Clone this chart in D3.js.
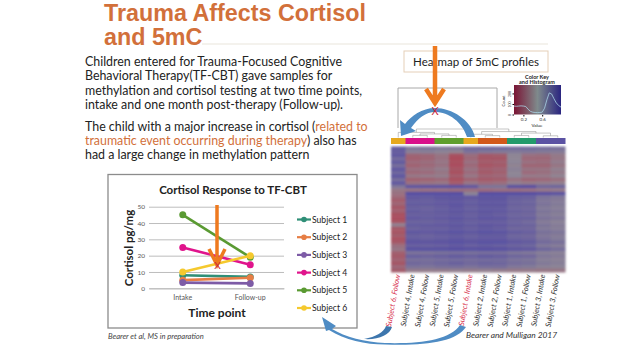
<!DOCTYPE html>
<html>
<head>
<meta charset="utf-8">
<script src="https://cdn.jsdelivr.net/npm/d3@7"></script>
<style>
html, body { margin: 0; padding: 0; background: #fff; overflow: hidden; }
svg { display: block; }
text { font-family: Lato, "Open Sans", sans-serif; fill: #222; }
</style>
</head>
<body>
<div id="viz"></div>
<script>
// line chart values
var timePoints = ["Intake", "Follow-up"];
var subjects = ["Subject 1", "Subject 2", "Subject 3", "Subject 4", "Subject 5", "Subject 6"];
var subject1 = [8, 7];
var subject2 = [5, 6.5];
var subject3 = [3.5, 3];
var subject4 = [25, 14.5];
var subject5 = [45, 19];
var subject6 = [10, 20];
var cortisolTicks = [0, 10, 20, 30, 40, 50];
var subjectColors = ["#2f8f77", "#e67e45", "#7d5ba6", "#e0148c", "#5a9a32", "#f5c92e"];

// heatmap values, one row per line, columns in sampleNames order
var sampleNames = ["Subject 6, Follow", "Subject 4, Intake", "Subject 4, Follow", "Subject 5, Intake",
    "Subject 5, Follow", "Subject 6, Intake", "Subject 2, Intake", "Subject 2, Follow",
    "Subject 1, Intake", "Subject 1, Follow", "Subject 3, Intake", "Subject 3, Follow"];
var sampleBarColors = ["#e6a81e", "#d9108a", "#d9108a", "#5f9e2d", "#5f9e2d", "#e6a81e",
    "#d2581a", "#d2581a", "#239a6b", "#239a6b", "#5b52a3", "#5b52a3"];
var heatRows = [
    [.85,.62,.64,.62,.62,.74,.76,.76,.72,.72,.70,.68],
    [.82,.55,.56,.52,.48,.66,.62,.60,.60,.62,.60,.58],
    [.86,.28,.30,.38,.14,.34,.20,.22,.50,.36,.34,.42],
    [.72,.24,.28,.36,.10,.30,.18,.18,.50,.30,.30,.40],
    [.84,.32,.34,.40,.14,.36,.22,.24,.52,.36,.34,.44],
    [.70,.26,.30,.36,.12,.30,.16,.20,.48,.28,.28,.38],
    [.86,.36,.38,.44,.18,.38,.24,.28,.54,.38,.38,.46],
    [.76,.30,.32,.38,.14,.32,.20,.24,.50,.32,.34,.42],
    [.88,.40,.42,.44,.22,.40,.28,.30,.52,.42,.42,.48],
    [.70,.24,.26,.30,.14,.26,.20,.22,.36,.28,.30,.34],
    [.86,.36,.38,.40,.22,.40,.32,.34,.46,.42,.44,.46],
    [.62,.88,.90,.90,.92,.86,.64,.64,.92,.94,.74,.76],
    [.40,.38,.36,.36,.34,.34,.32,.34,.34,.36,.40,.42],
    [.36,.96,.96,.96,.96,.52,.96,.96,.96,.96,.94,.92],
    [.30,.86,.84,.88,.90,.86,.90,.90,.82,.80,.66,.62],
    [.22,.82,.80,.84,.86,.82,.86,.86,.78,.76,.62,.58],
    [.28,.84,.84,.86,.90,.84,.88,.88,.80,.78,.66,.60],
    [.18,.80,.78,.82,.86,.80,.84,.84,.76,.74,.60,.56],
    [.24,.84,.82,.84,.88,.84,.88,.86,.80,.78,.64,.60],
    [.14,.80,.80,.82,.84,.80,.84,.82,.76,.74,.60,.56],
    [.12,.86,.84,.86,.90,.84,.90,.88,.80,.80,.66,.62],
    [.16,.78,.78,.80,.84,.80,.82,.82,.76,.72,.58,.54],
    [.46,.84,.84,.86,.88,.84,.88,.86,.80,.78,.64,.58],
    [.20,.78,.80,.80,.84,.80,.84,.82,.74,.74,.60,.56],
    [.16,.88,.86,.88,.92,.88,.92,.90,.84,.82,.68,.64],
    [.22,.80,.78,.82,.84,.80,.84,.84,.76,.74,.62,.58],
    [.14,.84,.82,.84,.88,.84,.86,.86,.80,.78,.66,.60],
    [.20,.90,.88,.90,.92,.88,.92,.92,.86,.84,.72,.68],
    [.34,.82,.80,.82,.86,.82,.84,.82,.78,.76,.62,.58],
    [.40,.92,.92,.92,.94,.92,.94,.92,.88,.86,.76,.70],
    [.24,.66,.66,.68,.70,.68,.70,.70,.64,.62,.56,.54],
    [.20,.80,.78,.80,.84,.80,.84,.82,.76,.74,.62,.58],
    [.26,.68,.68,.70,.72,.70,.72,.72,.66,.64,.56,.54],
    [.18,.74,.72,.76,.80,.74,.78,.76,.70,.68,.60,.56],
    [.30,.66,.64,.68,.70,.66,.70,.70,.62,.60,.54,.52],
    [.22,.44,.44,.44,.46,.44,.46,.44,.42,.42,.40,.40]
];
// nested as [merge height, left, right], numbers are sample positions
var sampleTree = [1, [.6, 0, [.42, [.25, 1, 2], [.25, 3, 4]]],
                     [.7, [.38, 5, [.22, 6, 7]], [.52, [.24, 8, 9], [.2, 10, 11]]]];

// color key
var keyValues = [0, .05, .1, .15, .2, .25, .3, .35, .4, .45, .5, .55, .6, .65, .7, .75, .8, .85, .9, .95, 1];
var keyCounts = [80, 78, 80, 82, 80, 76, 50, 30, 22, 19, 18, 19, 22, 60, 140, 205, 195, 150, 110, 85, 70];
var keyColors = ["#7a1535", "#7f8a8c", "#2a2580"];

var width = 640, height = 360;
var svg = d3.select("#viz").append("svg").attr("width", width).attr("height", height);

var defs = svg.append("defs");
defs.append("filter").attr("id", "soft").attr("x", "-5%").attr("y", "-5%").attr("width", "110%").attr("height", "110%")
    .append("feGaussianBlur").attr("stdDeviation", 0.8);
var keyGrad = defs.append("linearGradient").attr("id", "keyGrad");
keyColors.forEach(function(c, i) {
    keyGrad.append("stop").attr("offset", (i * 50) + "%").attr("stop-color", c);
});

// slide heading and text
var heading = svg.append("g");
heading.selectAll("text").data(["Trauma Affects Cortisol", "and 5mC"]).enter().append("text")
    .attr("x", 104).attr("y", function(d, i) { return 21 + i * 24; })
    .style("font-family", "'Liberation Sans', Arial, sans-serif")
    .style("font-size", "23.3px").style("font-weight", "bold").style("fill", "#d2703a")
    .text(function(d) { return d; });
svg.append("line").attr("x1", 202).attr("x2", 548).attr("y1", 44).attr("y2", 44)
    .attr("stroke", "#e9e5dc").attr("stroke-width", 1.2);

var bodyLines = [
    {y: 66, parts: [["Children entered for Trauma-Focused Cognitive", 0]]},
    {y: 80, parts: [["Behavioral Therapy(TF-CBT) gave samples for", 0]]},
    {y: 95, parts: [["methylation and cortisol testing at two time points,", 0]]},
    {y: 109, parts: [["intake and one month post-therapy (Follow-up).", 0]]},
    {y: 131, parts: [["The child with a major increase in cortisol (", 0], ["related to", 1]]},
    {y: 145, parts: [["traumatic event occurring during therapy", 1], [") also has", 0]]},
    {y: 159, parts: [["had a large change in methylation pattern", 0]]}
];
bodyLines.forEach(function(line) {
    var t = svg.append("text").attr("x", 85).attr("y", line.y).style("font-size", "12.4px");
    line.parts.forEach(function(p) {
        t.append("tspan").style("fill", p[1] ? "#d2703a" : "#222").text(p[0]);
    });
});

// line chart panel
svg.append("rect").attr("x", 108).attr("y", 174.5).attr("width", 249).attr("height", 153.5)
    .attr("fill", "#fff").attr("stroke", "#8c8c8c").attr("stroke-width", 1.3);
svg.append("text").attr("x", 233).attr("y", 194).attr("text-anchor", "middle")
    .style("font-size", "11.5px").style("font-weight", "bold").text("Cortisol Response to TF-CBT");

var xScale = d3.scaleBand().domain(timePoints).range([149, 284]);
var yScale = d3.scaleLinear().domain([0, 50]).range([288.3, 206.7]);
var yAxis = d3.axisLeft(yScale).tickValues(cortisolTicks).tickSize(-135).tickPadding(4);
var xAxis = d3.axisBottom(xScale).tickSize(0).tickPadding(7);

var yG = svg.append("g").attr("transform", "translate(149,0)").call(yAxis);
yG.select(".domain").remove();
yG.selectAll("line").attr("stroke", "#bdbdbd");
yG.selectAll("text").style("font-size", "6.5px").style("fill", "#555");
var xG = svg.append("g").attr("transform", "translate(0,288.3)").call(xAxis);
xG.select(".domain").attr("stroke", "#bdbdbd");
xG.selectAll("text").style("font-size", "7px").style("fill", "#555");

svg.append("text").attr("transform", "translate(133,248) rotate(-90)").attr("text-anchor", "middle")
    .style("font-size", "11.5px").style("font-weight", "bold").text("Cortisol pg/mg");
svg.append("text").attr("x", 217).attr("y", 316.5).attr("text-anchor", "middle")
    .style("font-size", "12px").style("font-weight", "bold").text("Time point");

var series = [subject1, subject2, subject3, subject4, subject5, subject6];
var lineGen = d3.line()
    .x(function(d, i) { return xScale(timePoints[i]) + xScale.bandwidth() / 2; })
    .y(function(d) { return yScale(d); });
series.forEach(function(vals, s) {
    svg.append("path").attr("d", lineGen(vals)).attr("fill", "none")
        .attr("stroke", subjectColors[s]).attr("stroke-width", 2.6);
    svg.selectAll(null).data(vals).enter().append("circle")
        .attr("cx", function(d, i) { return xScale(timePoints[i]) + xScale.bandwidth() / 2; })
        .attr("cy", function(d) { return yScale(d); })
        .attr("r", 3.5).attr("fill", subjectColors[s]);
});

// legend
var legendY = d3.scalePoint().domain(subjects).range([219.5, 308]);
var legend = svg.selectAll(".legend").data(subjects).enter().append("g").attr("class", "legend")
    .attr("transform", function(d) { return "translate(0," + legendY(d) + ")"; });
legend.append("line").attr("x1", 297).attr("x2", 311)
    .attr("stroke", function(d, i) { return subjectColors[i]; }).attr("stroke-width", 2.2);
legend.append("circle").attr("cx", 304).attr("r", 2.8).attr("fill", function(d, i) { return subjectColors[i]; });
legend.append("text").attr("x", 312).attr("y", 3).style("font-size", "8.6px")
    .text(function(d) { return d; });

svg.append("text").attr("x", 108).attr("y", 339).style("font-size", "7.6px").style("font-style", "italic")
    .style("fill", "#444").text("Bearer et al, MS in preparation");

// heatmap
var colX = d3.scaleBand().domain(sampleNames).range([391, 565]);
var rowY = d3.scaleBand().domain(d3.range(heatRows.length)).range([146.5, 272]);
var heatColor = d3.scaleLinear().domain([0, .5, 1]).range(["#b23c4c", "#8f8695", "#5048a4"]);

var heat = svg.append("g").attr("filter", "url(#soft)");
heatRows.forEach(function(row, r) {
    heat.selectAll(null).data(row).enter().append("rect")
        .attr("x", function(d, i) { return colX(sampleNames[i]); })
        .attr("y", rowY(r))
        .attr("width", colX.bandwidth() + 0.5)
        .attr("height", rowY.bandwidth() + 0.5)
        .attr("fill", function(d) { return heatColor(d); });
});
svg.selectAll(".sampleBar").data(sampleNames).enter().append("rect").attr("class", "sampleBar")
    .attr("x", function(d) { return colX(d); }).attr("y", 138)
    .attr("width", colX.bandwidth() + 0.5).attr("height", 6)
    .attr("fill", function(d, i) { return sampleBarColors[i]; });

// dendrogram above the color bar
var treeHeight = d3.scaleLinear().domain([0, 1]).range([137.5, 129]);
var root = d3.hierarchy(sampleTree, function(d) { return Array.isArray(d) ? d.slice(1) : null; });
root.eachAfter(function(n) {
    if (n.children) {
        n.px = d3.mean(n.children, function(c) { return c.px; });
        n.py = treeHeight(n.data[0]);
    } else {
        n.px = colX(sampleNames[n.data]) + colX.bandwidth() / 2;
        n.py = treeHeight(0);
    }
});
svg.selectAll(".treeLink").data(root.links()).enter().append("path").attr("class", "treeLink")
    .attr("d", function(l) {
        return "M" + l.source.px + "," + l.source.py + "H" + l.target.px + "V" + l.target.py;
    })
    .attr("fill", "none").attr("stroke", "#8a8a8a").attr("stroke-width", 0.5);

// sample labels
svg.selectAll(".sampleLabel").data(sampleNames).enter().append("text").attr("class", "sampleLabel")
    .attr("transform", function(d) {
        return "translate(" + (colX(d) + colX.bandwidth() / 2 + 2) + ",275) rotate(-80)";
    })
    .attr("text-anchor", "end").style("font-size", "7.6px").style("font-style", "italic")
    .style("fill", function(d) { return d.indexOf("Subject 6") == 0 ? "#d8344f" : "#333"; })
    .text(function(d) { return d; });
svg.append("text").attr("x", 466).attr("y", 338).style("font-size", "8.4px").style("font-style", "italic")
    .style("fill", "#333").text("Bearer and Mulligan 2017");

// heatmap title box
svg.append("rect").attr("x", 404).attr("y", 51).attr("width", 144).attr("height", 21)
    .attr("fill", "#fff").attr("stroke", "#e5cfb8").attr("stroke-width", 1);
svg.append("text").attr("x", 476).attr("y", 66).attr("text-anchor", "middle")
    .style("font-size", "11.5px").text("Heatmap of 5mC profiles");

// open box over the dendrogram
svg.append("path").attr("d", "M398,128V88H497V128").attr("fill", "none")
    .attr("stroke", "#a8a8a8").attr("stroke-width", 1);

// color key inset
var keyX = d3.scaleLinear().domain([0, 1]).range([514, 561]);
var keyY = d3.scaleLinear().domain([0, 280]).range([114.5, 85]);
svg.append("rect").attr("x", keyX(0)).attr("y", 85).attr("width", keyX(1) - keyX(0)).attr("height", 29.5)
    .attr("fill", "url(#keyGrad)");
svg.append("path").attr("d", d3.line()
        .x(function(d, i) { return keyX(keyValues[i]); })
        .y(function(d) { return keyY(d); })(keyCounts))
    .attr("fill", "none").attr("stroke", "#a9d3e6").attr("stroke-width", 0.8);
var keyAxis = d3.axisBottom(keyX).tickValues([.2, .6]).tickSize(1.5).tickPadding(1);
var keyXG = svg.append("g").attr("transform", "translate(0,115)").call(keyAxis);
keyXG.select(".domain").remove();
keyXG.selectAll("text").style("font-size", "4.5px").style("fill", "#333");
var keyYAxis = d3.axisLeft(keyY).tickValues([0, 100, 200]).tickSize(1.5).tickPadding(1);
var keyYG = svg.append("g").attr("transform", "translate(514,0)").call(keyYAxis);
keyYG.select(".domain").remove();
keyYG.selectAll("text").attr("transform", "rotate(-90)").attr("dy", 0).attr("x", 0).attr("y", -3)
    .attr("text-anchor", "middle").style("font-size", "3.5px").style("fill", "#333");
svg.append("text").attr("transform", "translate(505,101) rotate(-90)").attr("text-anchor", "middle")
    .style("font-size", "4px").text("Count");
svg.append("text").attr("x", 537).attr("y", 127).attr("text-anchor", "middle")
    .style("font-size", "4.5px").text("Value");
svg.append("text").attr("x", 537).attr("y", 79).attr("text-anchor", "middle")
    .style("font-size", "5.5px").style("font-weight", "bold").text("Color Key");
svg.append("text").attr("x", 537).attr("y", 84).attr("text-anchor", "middle")
    .style("font-size", "5.5px").style("font-weight", "bold").text("and Histogram");

// blue arc arrows
svg.append("path")
    .attr("d", "M475,137 C471,120 452,108 435,108 C422,108 411,116 405,124 L400,120 L401,136 L416,131 L411,128 C418,118 426,112 435,112 C449,112 462,122 467,137 Z")
    .attr("fill", "#4f8cc4");
svg.append("path")
    .attr("d", "M460,325 C450,340 420,344 385,343 C365,342 345,337 332,329 L336,326 L322,317 L326,331 L329,330 C345,340 365,344.5 385,344.5 C425,346 456,342 466,327 Z")
    .attr("fill", "#4f8cc4");
svg.append("path")
    .attr("d", "M386,326 C384,332 376,337 364,339 C378,340 390,335 392,327 Z")
    .attr("fill", "#3d76ad");

// orange arrows and red marks
function orangeArrow(x, y0, y1, wingX, wingY, w) {
    svg.append("path").attr("d", "M" + x + "," + y0 + "V" + y1 + "M" + (x - wingX) + "," + (y1 - wingY) + "L" + x + "," + y1 + "L" + (x + wingX) + "," + (y1 - wingY))
        .attr("fill", "none").attr("stroke", "#ee7a1f").attr("stroke-width", w);
}
orangeArrow(435, 46, 103, 9, 14, 4.5);
orangeArrow(217, 205, 265, 8, 16, 3.5);
svg.append("text").attr("x", 435).attr("y", 115).attr("text-anchor", "middle")
    .style("font-size", "11px").style("fill", "#c8283c").text("X");
svg.append("text").attr("x", 217.5).attr("y", 269).attr("text-anchor", "middle")
    .style("font-size", "10px").style("fill", "#c8283c").text("X");
</script>
</body>
</html>
